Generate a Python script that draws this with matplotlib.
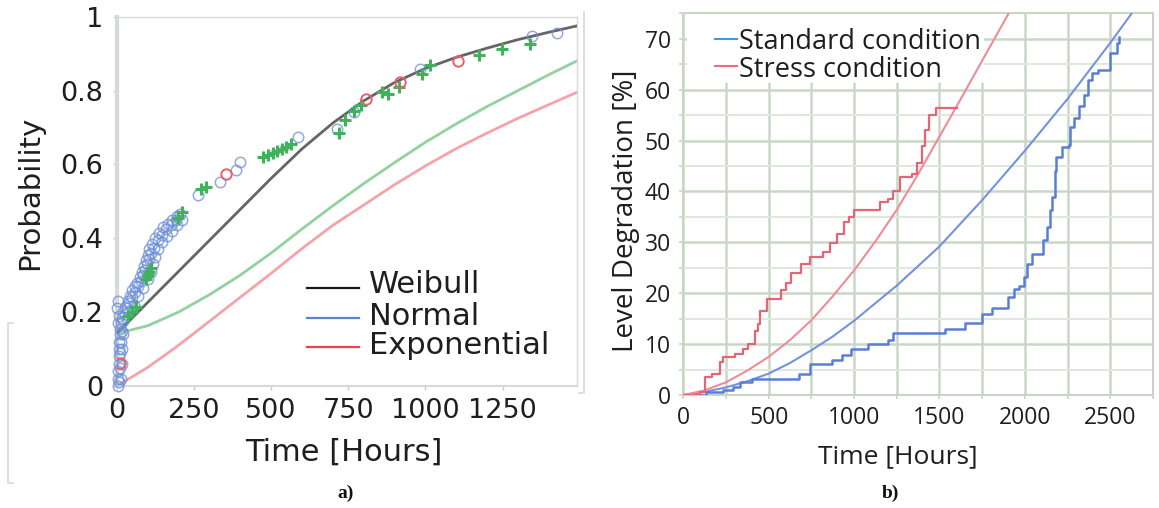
import matplotlib
matplotlib.use("Agg")
import matplotlib.pyplot as plt
from matplotlib.lines import Line2D
from matplotlib.patches import Rectangle
from matplotlib.ticker import MultipleLocator, FixedLocator

# ---------------- data : panel a) ----------------
weibull_t = [0, 100, 200, 300, 400, 500, 600, 700, 800, 900, 1000, 1100, 1200, 1300, 1400, 1490]
weibull_p = [0.142, 0.226, 0.31, 0.394, 0.478, 0.562, 0.642, 0.712, 0.772, 0.822, 0.860,
             0.890, 0.915, 0.938, 0.958, 0.975]

normal_t = [0, 100, 200, 300, 400, 500, 600, 700, 800, 900, 1000, 1100, 1200, 1300, 1400, 1490]
normal_p = [0.142, 0.163, 0.200, 0.247, 0.300, 0.360, 0.425, 0.488, 0.548, 0.605, 0.660,
            0.710, 0.757, 0.800, 0.843, 0.880]

expo_t = [0, 100, 200, 300, 400, 500, 600, 700, 800, 900, 1000, 1100, 1200, 1300, 1400, 1490]
expo_p = [0.0, 0.05, 0.11, 0.175, 0.24, 0.305, 0.372, 0.435, 0.49, 0.545, 0.596, 0.643,
          0.685, 0.725, 0.762, 0.795]

blue_obs_t = [3, 4, 5, 6, 7, 8, 9, 10, 12, 15, 18, 22, 28, 35, 42, 50, 58, 66, 74, 82, 90, 96,
              100, 106, 114, 124, 136, 150, 165, 180, 195, 205,
              14, 16, 18, 22, 40, 55, 70, 85, 100, 110, 118, 125, 135, 148, 162, 178, 195, 210,
              8, 10, 12, 14, 16, 20, 26, 32, 40, 48, 58, 68, 78, 86, 92, 98, 104, 112, 122,
              134, 146, 160, 176, 192,
              2, 3, 4, 6,
              263, 333, 387, 398, 586, 715, 769, 984, 1344, 1425]
blue_obs_p = [0.0, 0.02, 0.04, 0.06, 0.08, 0.10, 0.12, 0.14, 0.155, 0.17, 0.185, 0.20, 0.215,
              0.23, 0.245, 0.26, 0.27, 0.28, 0.295, 0.31, 0.325, 0.34, 0.355, 0.37, 0.385, 0.40,
              0.415, 0.43, 0.44, 0.45, 0.46, 0.465,
              0.02, 0.06, 0.10, 0.14, 0.20, 0.22, 0.245, 0.265, 0.29, 0.31, 0.33, 0.35, 0.37,
              0.39, 0.405, 0.42, 0.435, 0.45,
              0.01, 0.05, 0.09, 0.12, 0.15, 0.175, 0.195, 0.21, 0.225, 0.24, 0.255, 0.27,
              0.285, 0.30, 0.315, 0.33, 0.345, 0.36, 0.375, 0.395, 0.41, 0.425, 0.435, 0.45,
              0.21, 0.23, 0.17, 0.19,
              0.516, 0.552, 0.584, 0.606, 0.674, 0.696, 0.741, 0.859, 0.949, 0.957]

green_obs_t = [36, 50, 62, 95, 101, 105, 110, 200, 212, 274, 290, 473, 490, 505, 520, 535, 550,
               565, 720, 740, 770, 790, 860, 880, 914, 990, 1016, 1172, 1247, 1339]
green_obs_p = [0.19, 0.20, 0.215, 0.29, 0.30, 0.31, 0.32, 0.455, 0.47, 0.534, 0.54, 0.620,
               0.625, 0.63, 0.636, 0.642, 0.648, 0.656, 0.685, 0.72, 0.745, 0.76, 0.795, 0.79,
               0.809, 0.845, 0.868, 0.895, 0.912, 0.926]

red_obs_t = [10, 355, 806, 919, 1107]
red_obs_p = [0.061, 0.575, 0.778, 0.822, 0.881]

legend_a = ["Weibull", "Normal", "Exponential"]
ticks_a_x = [0, 250, 500, 750, 1000, 1250]
ticks_a_y = [0, 0.2, 0.4, 0.6, 0.8, 1.0]
ticklabels_a_y = ["0", "0.2", "0.4", "0.6", "0.8", "1"]

# ---------------- data : panel b) ----------------
stress_fit_t = [0, 125, 250, 375, 500, 625, 750, 875, 1000, 1125, 1250, 1375, 1500, 1625,
                1750, 1875, 1910]
stress_fit_v = [0, 0.9, 2.5, 4.8, 7.5, 10.8, 14.7, 19.4, 24.5, 30.2, 36.4, 43.4, 50.8, 58.2,
                65.7, 73.2, 75.3]

standard_fit_t = [0, 125, 250, 375, 500, 625, 750, 875, 1000, 1250, 1500, 1750, 2000, 2250,
                  2500, 2630]
standard_fit_v = [0, 0.6, 1.5, 2.7, 4.2, 6.3, 8.8, 11.5, 14.6, 21.5, 29.2, 38.3, 48.0, 58.2,
                  69.2, 75.2]

stress_step_t = [0, 100, 125, 170, 215, 235, 300, 350, 380, 420, 440, 450, 490, 570, 600, 630,
                 690, 740, 820, 860, 900, 940, 970, 1000, 1150, 1200, 1230, 1270, 1340, 1370,
                 1400, 1415, 1440, 1480, 1600]
stress_step_v = [0, 0.5, 3.5, 4.2, 6.5, 7.5, 8.1, 9, 10.1, 12.5, 14, 16.6, 18.9, 20.6, 22, 23.9,
                 25.8, 27.1, 28, 29.8, 31.7, 34, 35, 36.3, 38, 38.5, 40, 42.9, 43.5, 45.5,
                 49, 52, 55, 56.3, 56.3]

standard_step_t = [0, 130, 230, 290, 330, 400, 680, 740, 870, 930, 980, 1080, 1200, 1230, 1530,
                   1650, 1750, 1805, 1900, 1935, 1965, 1995, 2015, 2040, 2105, 2130, 2145, 2160,
                   2175, 2185, 2215, 2260, 2265, 2290, 2315, 2345, 2370, 2395, 2430, 2500, 2540, 2550]
standard_step_v = [0, 0.5, 1, 1.5, 2.5, 3.2, 4.2, 6.1, 6.8, 7.8, 9.1, 10.1, 10.8, 12.2, 13,
                   14.1, 16, 17, 19.3, 20.9, 21.5, 23.2, 25.8, 27.8, 30.4, 33, 36.3, 38.9,
                   44, 46.8, 48.8, 49.1, 52.7, 54.5, 56.7, 59, 61.9, 63.2, 63.9, 67.2, 69.1, 70.4]

legend_b = ["Standard condition", "Stress condition"]

# ---------------- figure ----------------
W, H = 1159, 508
fig = plt.figure(figsize=(W / 100, H / 100), dpi=100)
fig.patch.set_facecolor("white")

def px_axes(l, t, r, b):
    return fig.add_axes([l / W, 1 - b / H, (r - l) / W, (b - t) / H])

def fx(x):
    return x / W

def fy(y):
    return 1 - y / H

txt = "#1e1e1e"
fa = "DejaVu Sans"
fb = "Open Sans"

# ---------- panel a ----------
axL = px_axes(116.7, 16.7, 576.7, 386)
axL.set_xlim(0, 1490)
axL.set_ylim(0, 1)
axL.plot(expo_t, expo_p, color="#f4a3aa", lw=2.0, zorder=2)
axL.plot(normal_t, normal_p, color="#92d2a0", lw=2.0, zorder=2)
axL.plot(weibull_t, weibull_p, color="#656565", lw=2.0, zorder=3)
axL.plot(blue_obs_t, blue_obs_p, ls="none", marker="o", ms=7.5, mfc="none",
         mec="#6d8fd8", mew=1.1, alpha=0.75, zorder=4, clip_on=False)
axL.plot(green_obs_t, green_obs_p, ls="none", marker="+", ms=9, mec="#3fb25a",
         mew=2.2, zorder=5)
axL.plot(red_obs_t, red_obs_p, ls="none", marker="o", ms=7.5, mfc="none",
         mec="#e8606a", mew=1.4, zorder=5)

for s in axL.spines.values():
    s.set_color("#d6dad6")
    s.set_linewidth(1.0)
axL.spines["left"].set_linewidth(3.0)
axL.spines["bottom"].set_linewidth(1.5)
axL.set_xticks(ticks_a_x)
axL.set_yticks(ticks_a_y)
axL.set_yticklabels(ticklabels_a_y)
axL.tick_params(axis="both", direction="out", length=3, width=1, color="#c4c8c4",
                labelsize=19.5, labelcolor=txt)
axL.tick_params(axis="y", pad=6.5)
axL.tick_params(axis="x", pad=6)
for lab in axL.get_xticklabels() + axL.get_yticklabels():
    lab.set_fontfamily(fa)

# legend of panel a (placed by hand)
leg_a_colors = ["#1a1a1a", "#5f82cc", "#e8424c"]
leg_a_base = [293, 325, 354]
leg_a_line = [288, 318, 347]
for name, col, yb, yl in zip(legend_a, leg_a_colors, leg_a_base, leg_a_line):
    fig.add_artist(Line2D([fx(307), fx(359)], [fy(yl), fy(yl)], color=col, lw=1.6))
    fig.text(fx(369), fy(yb), name, family=fa, fontsize=22, color=txt,
             ha="left", va="baseline")

fig.text(fx(344), fy(452), "Time [Hours]", family=fa, fontsize=22, color=txt,
         ha="center", va="center")
fig.text(fx(30), fy(193), "Probability", family=fa, fontsize=21, color=txt,
         ha="center", va="center", rotation=90)
fig.text(fx(346), fy(493), "a)", family="Liberation Serif", fontsize=14,
         weight="bold", color="#111111", ha="center", va="center")

# ---------- panel b ----------
axR = px_axes(683.3, 13.3, 1153, 395)
axR.set_xlim(0, 2750)
axR.set_ylim(0, 75)
axR.xaxis.set_major_locator(MultipleLocator(500))
axR.xaxis.set_minor_locator(MultipleLocator(250))
axR.yaxis.set_major_locator(FixedLocator([0, 10, 20, 30, 40, 50, 60, 70]))
axR.yaxis.set_minor_locator(MultipleLocator(5))
axR.grid(True, which="major", axis="both", color="#cad7c6", lw=1.8, zorder=0)
axR.grid(True, which="minor", axis="x", color="#cad7c6", lw=1.8, zorder=0)
axR.grid(True, which="minor", axis="y", color="#e0e8dd", lw=1.4, zorder=0)
axR.set_axisbelow(True)

# white legend background hiding the grid
axR.add_patch(Rectangle((fx(687), fy(83)), fx(984) - fx(687), fy(13.3) - fy(83),
                        transform=fig.transFigure, facecolor="white", edgecolor="none",
                        zorder=1))

axR.plot(standard_fit_t, standard_fit_v, color="#7592dc", lw=1.5, zorder=3)
axR.plot(stress_fit_t, stress_fit_v, color="#ef8c96", lw=1.5, zorder=3)
axR.plot(standard_step_t, standard_step_v, color="#5a7fd2", lw=1.8,
         drawstyle="steps-post", zorder=4)
axR.plot(stress_step_t, stress_step_v, color="#e26676", lw=1.6,
         drawstyle="steps-post", zorder=4)

for s in axR.spines.values():
    s.set_color("#c9d5c5")
    s.set_linewidth(1.5)
axR.tick_params(axis="both", which="both", direction="out", color="#c9d5c5",
                width=1.2, length=3, labelsize=16.5, labelcolor=txt)
axR.tick_params(axis="y", which="major", pad=6)
axR.tick_params(axis="x", which="major", pad=5)
for lab in axR.get_xticklabels() + axR.get_yticklabels():
    lab.set_fontfamily(fb)

# legend of panel b (placed by hand)
leg_b_colors = ["#3f9ad8", "#e8707e"]
leg_b_base = [49, 77]
leg_b_line = [39, 66]
for name, col, yb, yl in zip(legend_b, leg_b_colors, leg_b_base, leg_b_line):
    fig.add_artist(Line2D([fx(715), fx(737)], [fy(yl), fy(yl)], color=col, lw=1.5))
    fig.text(fx(739), fy(yb), name, family=fb, fontsize=19.5, color=txt,
             ha="left", va="baseline")

fig.text(fx(898), fy(457), "Time [Hours]", family=fb, fontsize=19, color=txt,
         ha="center", va="center")
fig.text(fx(626), fy(211), "Level Degradation [%]", family=fb, fontsize=20, color=txt,
         ha="center", va="center", rotation=90)
fig.text(fx(890), fy(493), "b)", family="Liberation Serif", fontsize=14,
         weight="bold", color="#111111", ha="center", va="center")

# stray frame fragments of the composed figure
fig.add_artist(Line2D([fx(13), fx(8), fx(8), fx(13)], [fy(323), fy(323), fy(483), fy(483)],
                      color="#d8d8d8", lw=1.2))
fig.add_artist(Line2D([fx(584), fx(584), fx(579)], [fy(12), fy(393), fy(393)],
                      color="#d8d8d8", lw=1.2))

fig.savefig("out.png", dpi=100, facecolor="white")
